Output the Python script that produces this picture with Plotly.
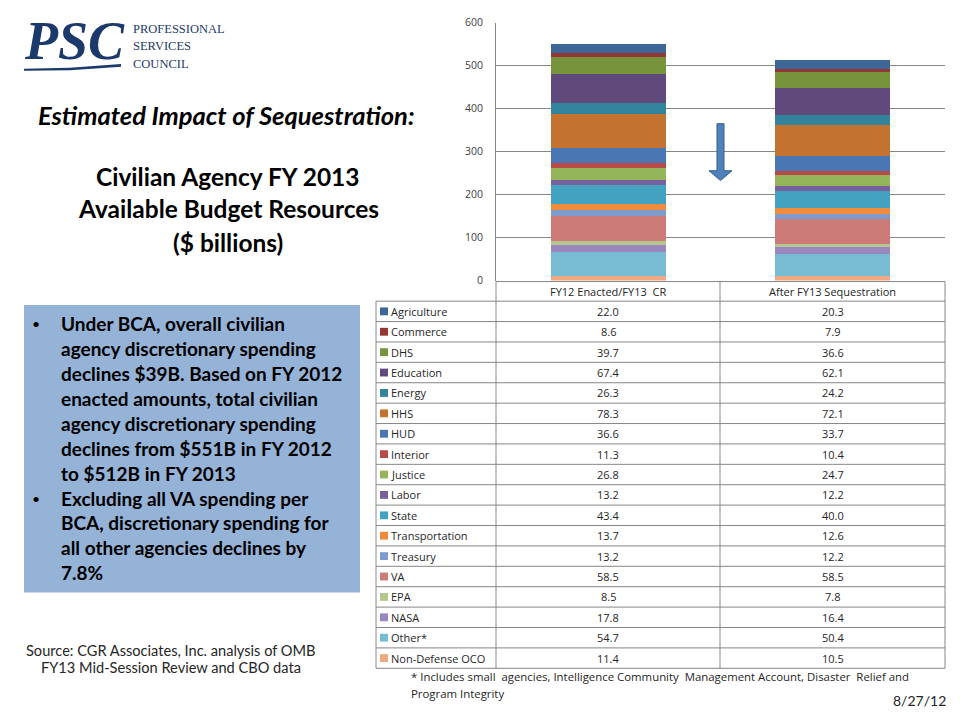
import plotly.graph_objects as go

W, H = 960, 720

categories = ["FY12 Enacted/FY13  CR", "After FY13 Sequestration"]
agencies = ["Agriculture", "Commerce", "DHS", "Education", "Energy", "HHS", "HUD",
            "Interior", "Justice", "Labor", "State", "Transportation", "Treasury",
            "VA", "EPA", "NASA", "Other*", "Non-Defense OCO"]
fy12 = [22.0, 8.6, 39.7, 67.4, 26.3, 78.3, 36.6, 11.3, 26.8, 13.2, 43.4, 13.7, 13.2,
        58.5, 8.5, 17.8, 54.7, 11.4]
fy13 = [20.3, 7.9, 36.6, 62.1, 24.2, 72.1, 33.7, 10.4, 24.7, 12.2, 40.0, 12.6, 12.2,
        58.5, 7.8, 16.4, 50.4, 10.5]
colors = ["#3C6598", "#953735", "#77933C", "#604A7B", "#31849B", "#C4722F", "#4A76B3",
          "#B94A48", "#94B55A", "#77609E", "#43A2C0", "#F08C3E", "#7E9BCB",
          "#CC7B79", "#B5C78E", "#9A87BE", "#77BCD2", "#F0AA82"]
y_ticks = [0, 100, 200, 300, 400, 500, 600]

FONT = "Lato"
TFONT = "Open Sans"


def px(x):
    return x / W


def py(y):
    return 1 - y / H


fig = go.Figure()
# bottom of stack = last agency in table
for name, a, b, c in reversed(list(zip(agencies, fy12, fy13, colors))):
    fig.add_trace(go.Bar(x=categories, y=[a, b], name=name, marker=dict(color=c, line=dict(width=0)),
                         showlegend=False))

shapes = []
annotations = []

# ---- table ----
grid = "#868686"
x_left, x_c1, x_c2, x_right = 376, 496, 720, 945
y_top, y_head = 280, 300
row_h = 20.8
y_bottom = y_head + row_h * len(agencies)


def line(x0, y0, x1, y1, color=grid, w=1):
    shapes.append(dict(type="line", xref="paper", yref="paper", x0=px(x0), y0=py(y0),
                       x1=px(x1), y1=py(y1), line=dict(color=color, width=w)))


line(x_c1, y_top, x_right, y_top)
for i in range(len(agencies) + 1):
    yy = y_head + i * row_h
    line(x_left, yy, x_right, yy)
line(x_left, y_head, x_left, y_bottom)
line(x_c1, y_top, x_c1, y_bottom)
line(x_c2, y_top, x_c2, y_bottom)
line(x_right, y_top, x_right, y_bottom)

col_centers = [(x_c1 + x_c2) / 2, (x_c2 + x_right) / 2]
for cat, cx in zip(categories, col_centers):
    annotations.append(dict(x=px(cx), y=py((y_top + y_head) / 2), xref="paper", yref="paper",
                            text=cat, showarrow=False, xanchor="center", yanchor="middle",
                            font=dict(family=TFONT, size=11, color="#262626")))

for i, (name, a, b, c) in enumerate(zip(agencies, fy12, fy13, colors)):
    yc = y_head + (i + 0.5) * row_h
    shapes.append(dict(type="rect", xref="paper", yref="paper", x0=px(380), x1=px(388),
                       y0=py(yc - 4), y1=py(yc + 4), fillcolor=c, line=dict(width=0)))
    annotations.append(dict(x=px(389), y=py(yc), xref="paper", yref="paper", text=name,
                            showarrow=False, xanchor="left", yanchor="middle",
                            font=dict(family=TFONT, size=11, color="#262626")))
    for v, cx in zip([a, b], col_centers):
        annotations.append(dict(x=px(cx), y=py(yc), xref="paper", yref="paper", text=f"{v:.1f}",
                                showarrow=False, xanchor="center", yanchor="middle",
                                font=dict(family=TFONT, size=11, color="#262626")))

# footnote & date
annotations.append(dict(x=px(409), y=py(683), xref="paper", yref="paper",
                        text="* Includes small  agencies, Intelligence Community  Management Account, Disaster  Relief and",
                        showarrow=False, xanchor="left", yanchor="middle",
                        font=dict(family=TFONT, size=11.4, color="#262626")))
annotations.append(dict(x=px(409), y=py(700), xref="paper", yref="paper", text="Program Integrity",
                        showarrow=False, xanchor="left", yanchor="middle",
                        font=dict(family=TFONT, size=11.4, color="#262626")))
annotations.append(dict(x=px(948), y=py(707), xref="paper", yref="paper", text="8/27/12",
                        showarrow=False, xanchor="right", yanchor="middle",
                        font=dict(family=FONT, size=14, color="#262626")))

# ---- arrow ----
arrow = [(717, 119), (724, 119), (724, 167), (732, 167), (720.5, 177), (709, 167), (717, 167)]
path = "M " + " L ".join(f"{px(x):.5f},{py(y):.5f}" for x, y in arrow) + " Z"
shapes.append(dict(type="path", xref="paper", yref="paper", path=path, fillcolor="#4F81BD",
                   line=dict(color="#385D8A", width=1)))

# ---- left side texts ----
# logo
annotations.append(dict(x=px(22), y=py(35), xref="paper", yref="paper", text="<b><i>PSC</i></b>",
                        showarrow=False, xanchor="left", yanchor="middle",
                        font=dict(family="Liberation Serif", size=54, color="#1B3A6B")))
sw = [(24, 63), (70, 62), (121, 58), (121, 61), (70, 64.5), (24, 65)]
shapes.append(dict(type="path", xref="paper", yref="paper",
                   path="M " + " L ".join(f"{px(x):.5f},{py(y):.5f}" for x, y in sw) + " Z",
                   fillcolor="#1B3A6B", line=dict(width=0)))
for t, yy in zip(["PROFESSIONAL", "SERVICES", "COUNCIL"], [22, 40, 58]):
    annotations.append(dict(x=px(131), y=py(yy), xref="paper", yref="paper", text=t,
                            showarrow=False, xanchor="left", yanchor="middle",
                            font=dict(family="Liberation Serif", size=12.5, color="#1B3A6B")))

annotations.append(dict(x=px(226), y=py(110), xref="paper", yref="paper",
                        text="<b><i>Estimated Impact of Sequestration:</i></b>",
                        showarrow=False, xanchor="center", yanchor="middle",
                        font=dict(family=FONT, size=25.5, color="#000000")))
for t, yy in zip(["Civilian Agency FY 2013", "Available Budget Resources", "($ billions)"],
                 [173, 206, 240]):
    annotations.append(dict(x=px(228), y=py(yy), xref="paper", yref="paper", text=f"<b>{t}</b>",
                            showarrow=False, xanchor="center", yanchor="middle",
                            font=dict(family=FONT, size=24.5, color="#000000")))

# blue box
shapes.append(dict(type="rect", xref="paper", yref="paper", x0=px(24), x1=px(360), y0=py(304),
                   y1=py(597), fillcolor="#95B3D7", line=dict(width=0), layer="below"))
bullet_lines = [
    (True, "Under BCA, overall civilian"),
    (False, "agency discretionary spending"),
    (False, "declines $39B. Based on FY 2012"),
    (False, "enacted amounts, total civilian"),
    (False, "agency discretionary spending"),
    (False, "declines from $551B in FY 2012"),
    (False, "to $512B in FY 2013"),
    (True, "Excluding all VA spending per"),
    (False, "BCA, discretionary spending for"),
    (False, "all other agencies declines by"),
    (False, "7.8%"),
]
for i, (b, t) in enumerate(bullet_lines):
    yy = 323 + i * 25.4
    if b:
        annotations.append(dict(x=px(36), y=py(yy), xref="paper", yref="paper", text="•",
                                showarrow=False, xanchor="center", yanchor="middle",
                                font=dict(family=FONT, size=14, color="#000000")))
    annotations.append(dict(x=px(59), y=py(yy), xref="paper", yref="paper", text=f"<b>{t}</b>",
                            showarrow=False, xanchor="left", yanchor="middle",
                            font=dict(family=FONT, size=19, color="#000000")))

for t, yy in zip(["Source: CGR Associates, Inc. analysis of OMB", "FY13 Mid-Session Review and CBO data"],
                 [656, 674]):
    annotations.append(dict(x=px(171), y=py(yy), xref="paper", yref="paper", text=t,
                            showarrow=False, xanchor="center", yanchor="middle",
                            font=dict(family=FONT, size=14.6, color="#262626")))

fig.update_layout(
    width=W, height=H, margin=dict(l=0, r=0, t=0, b=0),
    paper_bgcolor="white", plot_bgcolor="white",
    barmode="stack", bargap=0.488,
    shapes=shapes, annotations=annotations,
    xaxis=dict(domain=[px(x_c1), px(x_right)], showticklabels=False, showgrid=False,
               zeroline=False, showline=False, ticks="", fixedrange=True),
    yaxis=dict(domain=[py(279), py(16)], range=[0, 600], tickvals=y_ticks,
               showgrid=True, gridcolor=grid, gridwidth=1, zeroline=False,
               showline=True, linecolor=grid, linewidth=1, ticks="",
               ticklabelstandoff=10,
               tickfont=dict(family=TFONT, size=10.5, color="#404040")),
)

fig.write_html("out.html", config={"displayModeBar": False},
               post_script="document.body.style.margin='0';document.body.style.overflow='hidden';")
